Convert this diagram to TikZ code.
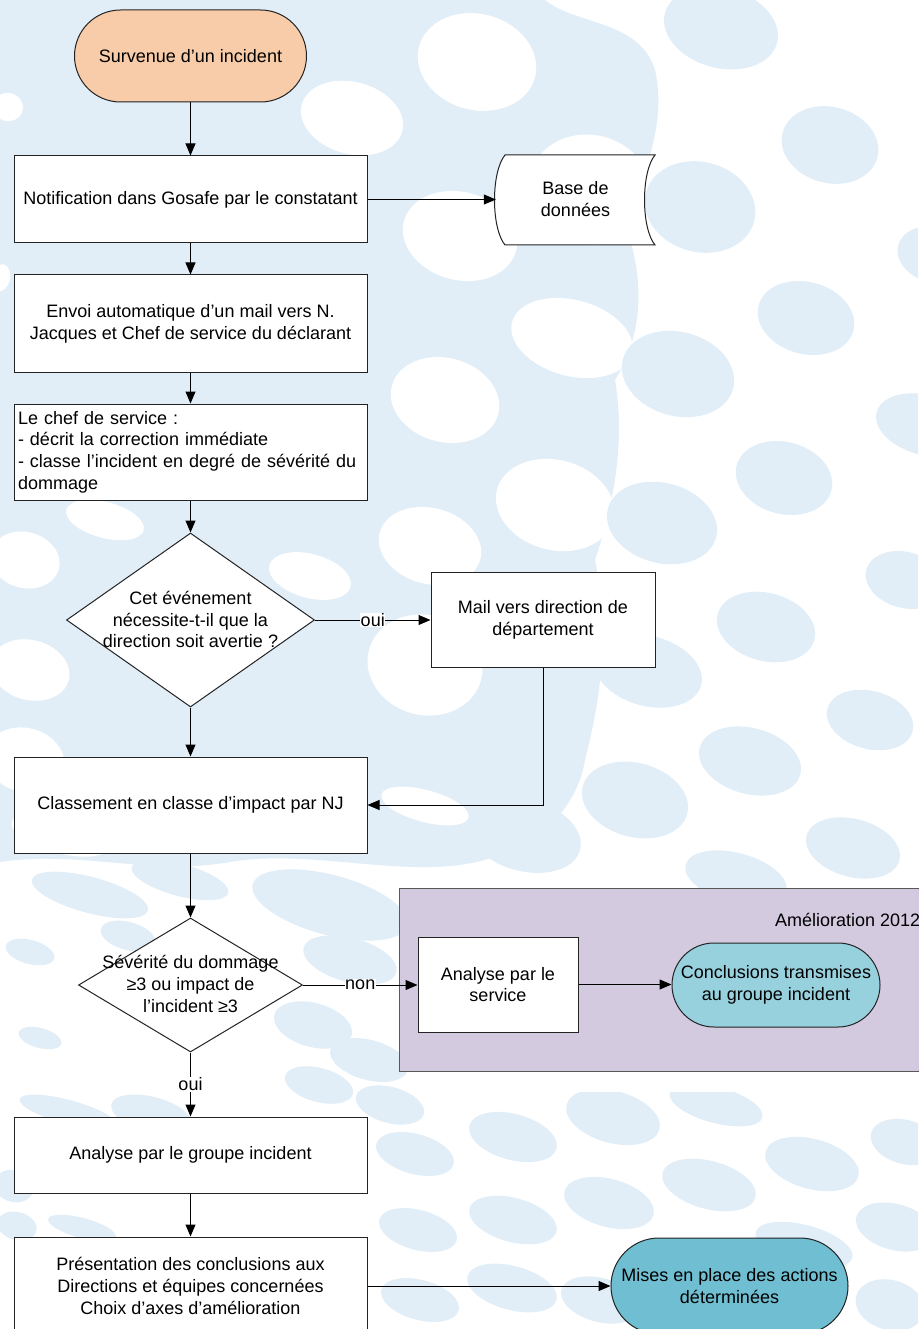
\documentclass[tikz,border=0pt]{standalone}
\usepackage{fontspec}
\setmainfont{Liberation Sans}
\usetikzlibrary{arrows.meta,shapes.geometric,calc}

\definecolor{bgblue}{RGB}{225,238,248}
\definecolor{peach}{RGB}{248,204,168}
\definecolor{tealA}{RGB}{151,209,222}
\definecolor{tealB}{RGB}{111,190,209}
\definecolor{lilac}{RGB}{211,202,224}
\definecolor{edge}{RGB}{35,35,35}

\begin{document}
\begin{tikzpicture}[x=1pt,y=-1pt,
  every node/.style={font=\fontsize{18}{21.7}\selectfont, text=black},
  box/.style={draw=edge, line width=1pt, fill=white, rectangle, inner sep=0pt, align=center},
  term/.style={draw=edge, line width=1pt, rectangle, inner sep=0pt, align=center},
  dia/.style={draw=edge, line width=1pt, diamond, fill=white, inner sep=0pt},
  arr/.style={line width=1pt, draw=black, -{Triangle[length=12pt,width=10pt]}},
  lbl/.style={fill=white, inner sep=0.6pt}
]
\useasboundingbox (0,0) rectangle (918,1329);

% ---------- bubble background ----------
\begin{scope}
\clip (0,0) rectangle (918,1329);
\fill[white] (0,0) rectangle (918,1329);
% tinted field on the left, with a wavy outline
\fill[bgblue] (0,0) -- (545,0) .. controls (575,25) and (640,20) .. (655,70)
  .. controls (668,130) and (640,170) .. (630,240)
  .. controls (645,290) and (640,340) .. (615,380)
  .. controls (625,440) and (615,500) .. (595,560)
  .. controls (610,640) and (600,700) .. (585,760)
  .. controls (575,820) and (520,860) .. (450,866)
  .. controls (380,872) and (300,850) .. (230,862)
  .. controls (150,876) and (80,850) .. (0,862) -- cycle;
% light openings in the field
\foreach \cx/\cy/\rx/\ry in {352/118/52/36, 477/62/60/48, 590/190/62/55, 460/236/58/44,
    572/338/62/38, 445/400/55/42, 555/505/60/45, 430/546/52/38, 105/520/40/18,
    25/560/35/28, 310/576/42/22, 30/670/40/30, 425/665/58/50, 25/760/40/32,
    8/107/15/14, 0/278/10/14, 425/806/45/16, 600/630/40/30, 60/835/50/18}
  \fill[white, rotate around={-15:(\cx,\cy)}] (\cx,\cy) ellipse [x radius=\rx, y radius=\ry];
% scattered bubbles
\foreach \cx/\cy/\rx/\ry in {721/28/58/40, 830/145/49/38, 700/207/56/45, 935/255/38/28,
    806/318/49/36, 678/374/57/42, 925/425/50/30, 784/478/49/36, 662/523/56/40,
    766/627/50/34, 905/580/40/28, 648/671/55/35, 870/720/44/29, 750/761/52/33,
    635/800/54/37, 853/848/48/29, 736/878/52/25, 533/708/58/40, 524/835/58/36,
    330/905/80/30, 350/960/48/22, 313/1025/40/22, 369/1060/40/20, 128/936/28/14,
    30/952/25/12, 40/1038/22/10, 90/895/60/18, 180/880/50/16,
    613/1117/48/26, 716/1105/48/18, 513/1137/45/23, 415/1154/40/20, 709/1185/48/24,
    812/1164/48/25, 905/1142/35/22, 609/1203/46/24, 513/1220/45/22, 418/1230/40/20,
    804/1245/50/20, 895/1227/40/23, 512/1288/46/22, 890/1305/35/25, 420/1300/40/20,
    600/1300/40/22, 319/1085/35/17, 68/1112/50/12, 152/1115/42/18, 14/1186/20/16,
    17/1226/20/14, 82/1228/35/10, 390/1105/35/18}
  \fill[bgblue, rotate around={-15:(\cx,\cy)}] (\cx,\cy) ellipse [x radius=\rx, y radius=\ry];
\fill[white] (418,1071) rectangle (918,1092);
\end{scope}

% ---------- group frame ----------
\node[draw=black!65, line width=1pt, fill=lilac, minimum width=530pt, minimum height=183pt,
      inner sep=0pt, anchor=north west] (grp) at (399,888) {};
\node[anchor=west, inner sep=0pt] (grptitle) at (775,920) {Amélioration 2012};

% ---------- stored data outline ----------
\filldraw[fill=white, draw=edge, line width=1pt]
  (505,155) -- (655,155) .. controls (641,172) and (641,228) .. (655,245)
  -- (505,245) .. controls (491,228) and (491,172) .. (505,155) -- cycle;

% ---------- nodes ----------
\node[term, fill=peach, minimum width=232pt, minimum height=92pt, rounded corners=46pt]
  (start) at (190.5,56) {Survenue d’un incident};
\node[box, minimum width=353pt, minimum height=87pt] (notif) at (190.5,199.5)
  {Notification dans Gosafe par le constatant};
\node[minimum width=159pt, minimum height=90pt, inner sep=0pt, align=center]
  (db) at (575.5,199) {Base de\\données};
\node[box, minimum width=353pt, minimum height=97pt] (envoi) at (190.5,323.5)
  {Envoi automatique d’un mail vers N.\\Jacques et Chef de service du déclarant};
\node[box, minimum width=353pt, minimum height=96pt, text width=345pt, align=left]
  (chef) at (190.5,452)
  {Le chef de service :\\- décrit la correction immédiate\\- classe l’incident en degré de sévérité du\\dommage};
\node[dia, minimum width=248pt, minimum height=174pt] (q1) at (190.5,620) {};
\node[align=center, inner sep=0pt] (q1text) at (190.5,619.5)
  {Cet événement\\nécessite-t-il que la\\direction soit avertie ?};
\node[box, minimum width=224pt, minimum height=95pt] (mail) at (543,619.5)
  {Mail vers direction de\\département};
\node[box, minimum width=353pt, minimum height=96pt] (class) at (190.5,805)
  {Classement en classe d’impact par NJ};
\node[dia, minimum width=224pt, minimum height=134pt] (q2) at (190.5,985) {};
\node[align=center, inner sep=0pt] (q2text) at (190.5,984)
  {Sévérité du dommage\\≥3 ou impact de\\l’incident ≥3};
\node[box, minimum width=160pt, minimum height=95pt] (svc) at (498,984.5)
  {Analyse par le\\service};
\node[term, fill=tealA, minimum width=208pt, minimum height=84pt, rounded corners=42pt]
  (concl) at (776,985) {Conclusions transmises\\au groupe incident};
\node[box, minimum width=353pt, minimum height=76pt] (grpinc) at (190.5,1155)
  {Analyse par le groupe incident};
\node[box, minimum width=353pt, minimum height=98pt] (pres) at (190.5,1286)
  {Présentation des conclusions aux\\Directions et équipes concernées\\Choix d’axes d’amélioration};
\node[term, fill=tealB, minimum width=237pt, minimum height=96pt, rounded corners=48pt]
  (mises) at (729.5,1286) {Mises en place des actions\\déterminées};

% ---------- connectors ----------
\draw[arr] (start.south) -- (notif.north);
\draw[arr] (notif.east) -- (notif.east -| db.west);
\draw[arr] (notif.south) -- (envoi.north);
\draw[arr] (envoi.south) -- (chef.north);
\draw[arr] (chef.south) -- (q1.north);
\draw[arr] (q1.east) -- node[lbl] {oui} (q1.east -| mail.west);
\draw[arr] (q1.south) -- (class.north);
\draw[arr] (mail.south) |- (class.east);
\draw[arr] (class.south) -- (q2.north);
\draw[arr] (q2.east) -- node[lbl] {non} (q2.east -| svc.west);
\draw[arr] (svc.east) -- (svc.east -| concl.west);
\draw[arr] (q2.south) -- node[lbl] {oui} (grpinc.north);
\draw[arr] (grpinc.south) -- (pres.north);
\draw[arr] (pres.east) -- (mises.west);
\end{tikzpicture}
\end{document}
